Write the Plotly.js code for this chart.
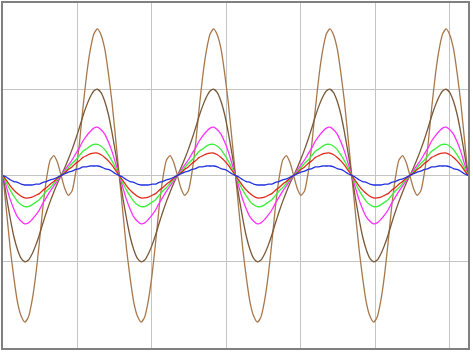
<!DOCTYPE html>
<html>
<head>
<meta charset="utf-8">
<script src="https://cdn.plot.ly/plotly-3.0.1.min.js"></script>
<style>html,body{margin:0;padding:0;background:#fff;}#chart{width:473px;height:354px;}</style>
</head>
<body>
<div id="chart"></div>
<script>
// Sample spacing in time (ms); 4 periods of 20 ms across the plot
var sampleStart = 0;
var sampleStep = 0.625;
var seriesNames = ["outer", "inner", "magenta", "green", "red", "blue"];

var outerBrown = [
0,-0.43,-0.85,-1.19,-1.47,-1.63,-1.70,-1.64,-1.45,-1.16,-0.78,-0.36,-0.03,0.18,0.23,0.15,0,-0.15,-0.23,-0.18,0.03,0.36,0.78,1.16,1.45,1.64,1.70,1.63,1.47,1.19,0.85,0.43,
0,-0.43,-0.85,-1.19,-1.47,-1.63,-1.70,-1.64,-1.45,-1.16,-0.78,-0.36,-0.03,0.18,0.23,0.15,0,-0.15,-0.23,-0.18,0.03,0.36,0.78,1.16,1.45,1.64,1.70,1.63,1.47,1.19,0.85,0.43,
0,-0.43,-0.85,-1.19,-1.47,-1.63,-1.70,-1.64,-1.45,-1.16,-0.78,-0.36,-0.03,0.18,0.23,0.15,0,-0.15,-0.23,-0.18,0.03,0.36,0.78,1.16,1.45,1.64,1.70,1.63,1.47,1.19,0.85,0.43,
0,-0.43,-0.85,-1.19,-1.47,-1.63,-1.70,-1.64,-1.45,-1.16,-0.78,-0.36,-0.03,0.18,0.23,0.15,0,-0.15,-0.23,-0.18,0.03,0.36,0.78,1.16,1.45,1.64,1.70,1.63,1.47,1.19,0.85,0.43,
0];

var innerBrown = [
0,-0.26,-0.50,-0.71,-0.86,-0.96,-1.00,-0.98,-0.91,-0.81,-0.69,-0.55,-0.42,-0.30,-0.19,-0.09,0,0.09,0.19,0.30,0.42,0.55,0.69,0.81,0.91,0.98,1.00,0.96,0.86,0.71,0.50,0.26,
0,-0.26,-0.50,-0.71,-0.86,-0.96,-1.00,-0.98,-0.91,-0.81,-0.69,-0.55,-0.42,-0.30,-0.19,-0.09,0,0.09,0.19,0.30,0.42,0.55,0.69,0.81,0.91,0.98,1.00,0.96,0.86,0.71,0.50,0.26,
0,-0.26,-0.50,-0.71,-0.86,-0.96,-1.00,-0.98,-0.91,-0.81,-0.69,-0.55,-0.42,-0.30,-0.19,-0.09,0,0.09,0.19,0.30,0.42,0.55,0.69,0.81,0.91,0.98,1.00,0.96,0.86,0.71,0.50,0.26,
0,-0.26,-0.50,-0.71,-0.86,-0.96,-1.00,-0.98,-0.91,-0.81,-0.69,-0.55,-0.42,-0.30,-0.19,-0.09,0,0.09,0.19,0.30,0.42,0.55,0.69,0.81,0.91,0.98,1.00,0.96,0.86,0.71,0.50,0.26,
0];

var magentaSeries = [
0,-0.14,-0.28,-0.39,-0.48,-0.53,-0.56,-0.55,-0.51,-0.46,-0.40,-0.32,-0.25,-0.18,-0.12,-0.06,0,0.06,0.12,0.18,0.25,0.32,0.40,0.46,0.51,0.55,0.56,0.53,0.48,0.39,0.28,0.14,
0,-0.14,-0.28,-0.39,-0.48,-0.53,-0.56,-0.55,-0.51,-0.46,-0.40,-0.32,-0.25,-0.18,-0.12,-0.06,0,0.06,0.12,0.18,0.25,0.32,0.40,0.46,0.51,0.55,0.56,0.53,0.48,0.39,0.28,0.14,
0,-0.14,-0.28,-0.39,-0.48,-0.53,-0.56,-0.55,-0.51,-0.46,-0.40,-0.32,-0.25,-0.18,-0.12,-0.06,0,0.06,0.12,0.18,0.25,0.32,0.40,0.46,0.51,0.55,0.56,0.53,0.48,0.39,0.28,0.14,
0,-0.14,-0.28,-0.39,-0.48,-0.53,-0.56,-0.55,-0.51,-0.46,-0.40,-0.32,-0.25,-0.18,-0.12,-0.06,0,0.06,0.12,0.18,0.25,0.32,0.40,0.46,0.51,0.55,0.56,0.53,0.48,0.39,0.28,0.14,
0];

var greenSeries = [
0,-0.09,-0.17,-0.24,-0.30,-0.34,-0.36,-0.36,-0.34,-0.31,-0.28,-0.23,-0.18,-0.14,-0.09,-0.04,0,0.04,0.09,0.14,0.18,0.23,0.28,0.31,0.34,0.36,0.36,0.34,0.30,0.24,0.17,0.09,
0,-0.09,-0.17,-0.24,-0.30,-0.34,-0.36,-0.36,-0.34,-0.31,-0.28,-0.23,-0.18,-0.14,-0.09,-0.04,0,0.04,0.09,0.14,0.18,0.23,0.28,0.31,0.34,0.36,0.36,0.34,0.30,0.24,0.17,0.09,
0,-0.09,-0.17,-0.24,-0.30,-0.34,-0.36,-0.36,-0.34,-0.31,-0.28,-0.23,-0.18,-0.14,-0.09,-0.04,0,0.04,0.09,0.14,0.18,0.23,0.28,0.31,0.34,0.36,0.36,0.34,0.30,0.24,0.17,0.09,
0,-0.09,-0.17,-0.24,-0.30,-0.34,-0.36,-0.36,-0.34,-0.31,-0.28,-0.23,-0.18,-0.14,-0.09,-0.04,0,0.04,0.09,0.14,0.18,0.23,0.28,0.31,0.34,0.36,0.36,0.34,0.30,0.24,0.17,0.09,
0];

var redSeries = [
0,-0.06,-0.12,-0.17,-0.21,-0.24,-0.26,-0.26,-0.25,-0.23,-0.21,-0.17,-0.14,-0.10,-0.07,-0.03,0,0.03,0.07,0.10,0.14,0.17,0.21,0.23,0.25,0.26,0.26,0.24,0.21,0.17,0.12,0.06,
0,-0.06,-0.12,-0.17,-0.21,-0.24,-0.26,-0.26,-0.25,-0.23,-0.21,-0.17,-0.14,-0.10,-0.07,-0.03,0,0.03,0.07,0.10,0.14,0.17,0.21,0.23,0.25,0.26,0.26,0.24,0.21,0.17,0.12,0.06,
0,-0.06,-0.12,-0.17,-0.21,-0.24,-0.26,-0.26,-0.25,-0.23,-0.21,-0.17,-0.14,-0.10,-0.07,-0.03,0,0.03,0.07,0.10,0.14,0.17,0.21,0.23,0.25,0.26,0.26,0.24,0.21,0.17,0.12,0.06,
0,-0.06,-0.12,-0.17,-0.21,-0.24,-0.26,-0.26,-0.25,-0.23,-0.21,-0.17,-0.14,-0.10,-0.07,-0.03,0,0.03,0.07,0.10,0.14,0.17,0.21,0.23,0.25,0.26,0.26,0.24,0.21,0.17,0.12,0.06,
0];

var blueSeries = [
0,-0.02,-0.05,-0.07,-0.08,-0.10,-0.11,-0.11,-0.11,-0.10,-0.10,-0.08,-0.07,-0.05,-0.04,-0.02,0,0.02,0.04,0.05,0.07,0.08,0.10,0.10,0.11,0.11,0.11,0.10,0.08,0.07,0.05,0.02,
0,-0.02,-0.05,-0.07,-0.08,-0.10,-0.11,-0.11,-0.11,-0.10,-0.10,-0.08,-0.07,-0.05,-0.04,-0.02,0,0.02,0.04,0.05,0.07,0.08,0.10,0.10,0.11,0.11,0.11,0.10,0.08,0.07,0.05,0.02,
0,-0.02,-0.05,-0.07,-0.08,-0.10,-0.11,-0.11,-0.11,-0.10,-0.10,-0.08,-0.07,-0.05,-0.04,-0.02,0,0.02,0.04,0.05,0.07,0.08,0.10,0.10,0.11,0.11,0.11,0.10,0.08,0.07,0.05,0.02,
0,-0.02,-0.05,-0.07,-0.08,-0.10,-0.11,-0.11,-0.11,-0.10,-0.10,-0.08,-0.07,-0.05,-0.04,-0.02,0,0.02,0.04,0.05,0.07,0.08,0.10,0.10,0.11,0.11,0.11,0.10,0.08,0.07,0.05,0.02,
0];

var seriesValues = [outerBrown, innerBrown, magentaSeries, greenSeries, redSeries, blueSeries];
var seriesColors = ["#a8784c", "#7a5836", "#ff30ff", "#3cf03c", "#e02818", "#2030e0"];

var traces = seriesValues.map(function (vals, i) {
  return {
    type: "scatter",
    mode: "lines",
    name: seriesNames[i],
    x0: sampleStart,
    dx: sampleStep,
    y: vals,
    line: {color: seriesColors[i], width: 1.3, shape: "spline", smoothing: 0.6},
    hoverinfo: "skip"
  };
});

var axisCommon = {
  showticklabels: false,
  ticks: "",
  showgrid: true,
  gridcolor: "#c4c4c4",
  gridwidth: 1,
  zeroline: false,
  showline: true,
  mirror: true,
  linecolor: "#808080",
  linewidth: 2
};

var layout = {
  width: 473,
  height: 354,
  margin: {l: 3, r: 5, t: 3, b: 6, pad: 0},
  paper_bgcolor: "#ffffff",
  plot_bgcolor: "#ffffff",
  showlegend: false,
  xaxis: Object.assign({}, axisCommon, {range: [0, 80], tick0: 0, dtick: 12.8}),
  yaxis: Object.assign({}, axisCommon, {range: [-2, 2], tick0: 0, dtick: 1})
};

Plotly.newPlot("chart", traces, layout, {staticPlot: true, displayModeBar: false});
</script>
</body>
</html>
